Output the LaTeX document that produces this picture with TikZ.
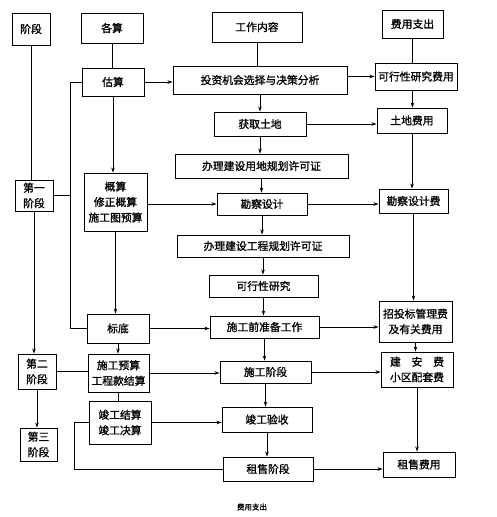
\documentclass[tikz,border=0pt]{standalone}
\usepackage{fontspec}
\setmainfont{Noto Sans CJK SC}
\newfontfamily\boldcjk{Noto Sans CJK SC}[FakeBold=1.2]
\usetikzlibrary{arrows.meta,calc}
\tikzset{
  box/.style={draw, line width=0.9pt, inner sep=1pt, align=center, font=\boldcjk\fontsize{10.8}{15.5}\selectfont},
  conn/.style={line width=0.8pt},
  arr/.style={line width=0.8pt, -{Stealth[length=5pt,width=3.5pt]}},
}
\newcommand{\bx}[6]{\node[box, minimum width=#4pt, minimum height=#5pt] (#1) at (#2,#3) {#6};}
\begin{document}
\begin{tikzpicture}[x=1pt,y=-1pt]
\useasboundingbox[fill=white] (0,0) rectangle (496,517);
% column 1
\bx{jieduan}{31}{29}{38}{32}{阶段}
\bx{diyi}{34}{195.5}{38}{31}{第一\\阶段}
\bx{dier}{37}{371.5}{38}{35}{第二\\阶段}
\bx{disan}{38.5}{444.5}{37}{33}{第三\\阶段}
% column 2
\bx{gesuan}{112}{28}{62}{30}{各算}
\bx{gusuan}{113}{82}{62}{28}{估算}
\bx{gaisuan}{115.5}{202}{63}{58}{概算\\修正概算\\施工图预算}
\bx{biaodi}{118}{328.5}{62}{29}{标底}
\bx{sgys}{118.5}{373}{61}{38}{施工预算\\工程款结算}
\bx{jgjs}{120}{422.5}{62}{43}{竣工结算\\竣工决算}
% column 3
\bx{gzrn}{257}{27}{90}{30}{工作内容}
\bx{touzi}{260}{80}{174}{28}{投资机会选择与决策分析}
\bx{huoqu}{260}{124}{92}{24}{获取土地}
\bx{bljsyd}{261.5}{166}{173}{24}{办理建设用地规划许可证}
\bx{kcsj}{262}{204}{90}{22}{勘察设计}
\bx{bljsgc}{263}{246}{172}{22}{办理建设工程规划许可证}
\bx{kxxyj}{263.5}{286}{109}{22}{可行性研究}
\bx{sgqzb}{264.5}{327}{109}{22}{施工前准备工作}
\bx{sgjd}{265.5}{372}{91}{22}{施工阶段}
\bx{jgys}{267}{419.5}{90}{25}{竣工验收}
\bx{zsjd}{268}{469}{90}{24}{租售阶段}
% column 4
\bx{fyzc}{412.5}{24}{61}{28}{费用支出}
\bx{kxxyjfy}{416}{76.5}{82}{27}{可行性研究费用}
\bx{tdfy}{412}{120.5}{70}{25}{土地费用}
\bx{kcsjf}{413.5}{201}{69}{24}{勘察设计费}
\bx{ztb}{415.5}{321.5}{73}{41}{招投标管理费\\及有关费用}
\bx{jaf}{417}{369.5}{72}{35}{建\hspace{1em}安\hspace{1em}费\\小区配套费}
\bx{zsfy}{419}{464.5}{72}{25}{租售费用}
% caption
\node[font=\boldcjk\fontsize{7.5}{9}\selectfont] (cap) at (252,507) {费用支出};
% helper coordinates
\coordinate (L1) at (70,0);
\coordinate (L2) at (74,0);
% column 1 connectors
\draw[conn] (jieduan.south) -- (jieduan.south |- diyi.north);
\draw[arr] (diyi.south) -- (diyi.south |- dier.north);
\draw[arr] (dier.south) -- (dier.south |- disan.north);
\draw[conn] (diyi.east) -- (diyi.east -| L1);
\draw[conn] (gusuan.west) -- (gusuan.west -| L1) |- (biaodi.west);
\draw[conn] (dier.east) -- (dier.east -| sgys.west);
\draw[conn] (jgjs.west) -- (jgjs.west -| L2) |- (zsjd.west);
% column 2 connectors
\draw[conn] (gesuan.south) -- (gesuan.south |- gusuan.north);
\draw[arr] (gusuan.south) -- (gusuan.south |- gaisuan.north);
\draw[arr] (gaisuan.south) -- (gaisuan.south |- biaodi.north);
\draw[arr] (biaodi.south) -- (biaodi.south |- sgys.north);
\draw[conn] (sgys.south) -- (sgys.south |- jgjs.north);
% column 2 -> 3
\draw[arr] (gusuan.east) -- (gusuan.east -| touzi.west);
\draw[arr] (gaisuan.east |- kcsj.west) -- (kcsj.west);
\draw[arr] (biaodi.east) -- (biaodi.east -| sgqzb.west);
\draw[arr] (sgys.east) -- (sgys.east -| sgjd.west);
\draw[arr] (jgjs.east) -- (jgjs.east -| jgys.west);
% column 3 connectors
\draw[conn] (gzrn.south) -- (gzrn.south |- touzi.north);
\draw[arr] (touzi.south) -- (touzi.south |- huoqu.north);
\draw[arr] (huoqu.south) -- (huoqu.south |- bljsyd.north);
\draw[arr] (bljsyd.south) -- (bljsyd.south |- kcsj.north);
\draw[arr] (kcsj.south) -- (kcsj.south |- bljsgc.north);
\draw[arr] (bljsgc.south) -- (bljsgc.south |- kxxyj.north);
\draw[arr] (kxxyj.south) -- (kxxyj.south |- sgqzb.north);
\draw[arr] (sgqzb.south) -- (sgqzb.south |- sgjd.north);
\draw[arr] (sgjd.south) -- (sgjd.south |- jgys.north);
\draw[arr] (jgys.south) -- (jgys.south |- zsjd.north);
% column 3 -> 4
\draw[arr] (touzi.east |- kxxyjfy.west) -- (kxxyjfy.west);
\draw[arr] (huoqu.east) -- (huoqu.east -| tdfy.west);
\draw[arr] (kcsj.east) -- (kcsj.east -| kcsjf.west);
\draw[arr] (sgqzb.east) -- (sgqzb.east -| ztb.west);
\draw[arr] (sgjd.east) -- (sgjd.east -| jaf.west);
\draw[arr] (zsjd.east) -- (zsjd.east -| zsfy.west);
% column 4 connectors
\draw[conn] (fyzc.south) -- (fyzc.south |- kxxyjfy.north);
\draw[arr] (fyzc.south |- kxxyjfy.south) -- (fyzc.south |- tdfy.north);
\draw[arr] (tdfy.south) -- (tdfy.south |- kcsjf.north);
\draw[arr] (kcsjf.south) -- (kcsjf.south |- ztb.north);
\draw[arr] (ztb.south) -- (ztb.south |- jaf.north);
\draw[arr] (jaf.south) -- (jaf.south |- zsfy.north);
\end{tikzpicture}
\end{document}
